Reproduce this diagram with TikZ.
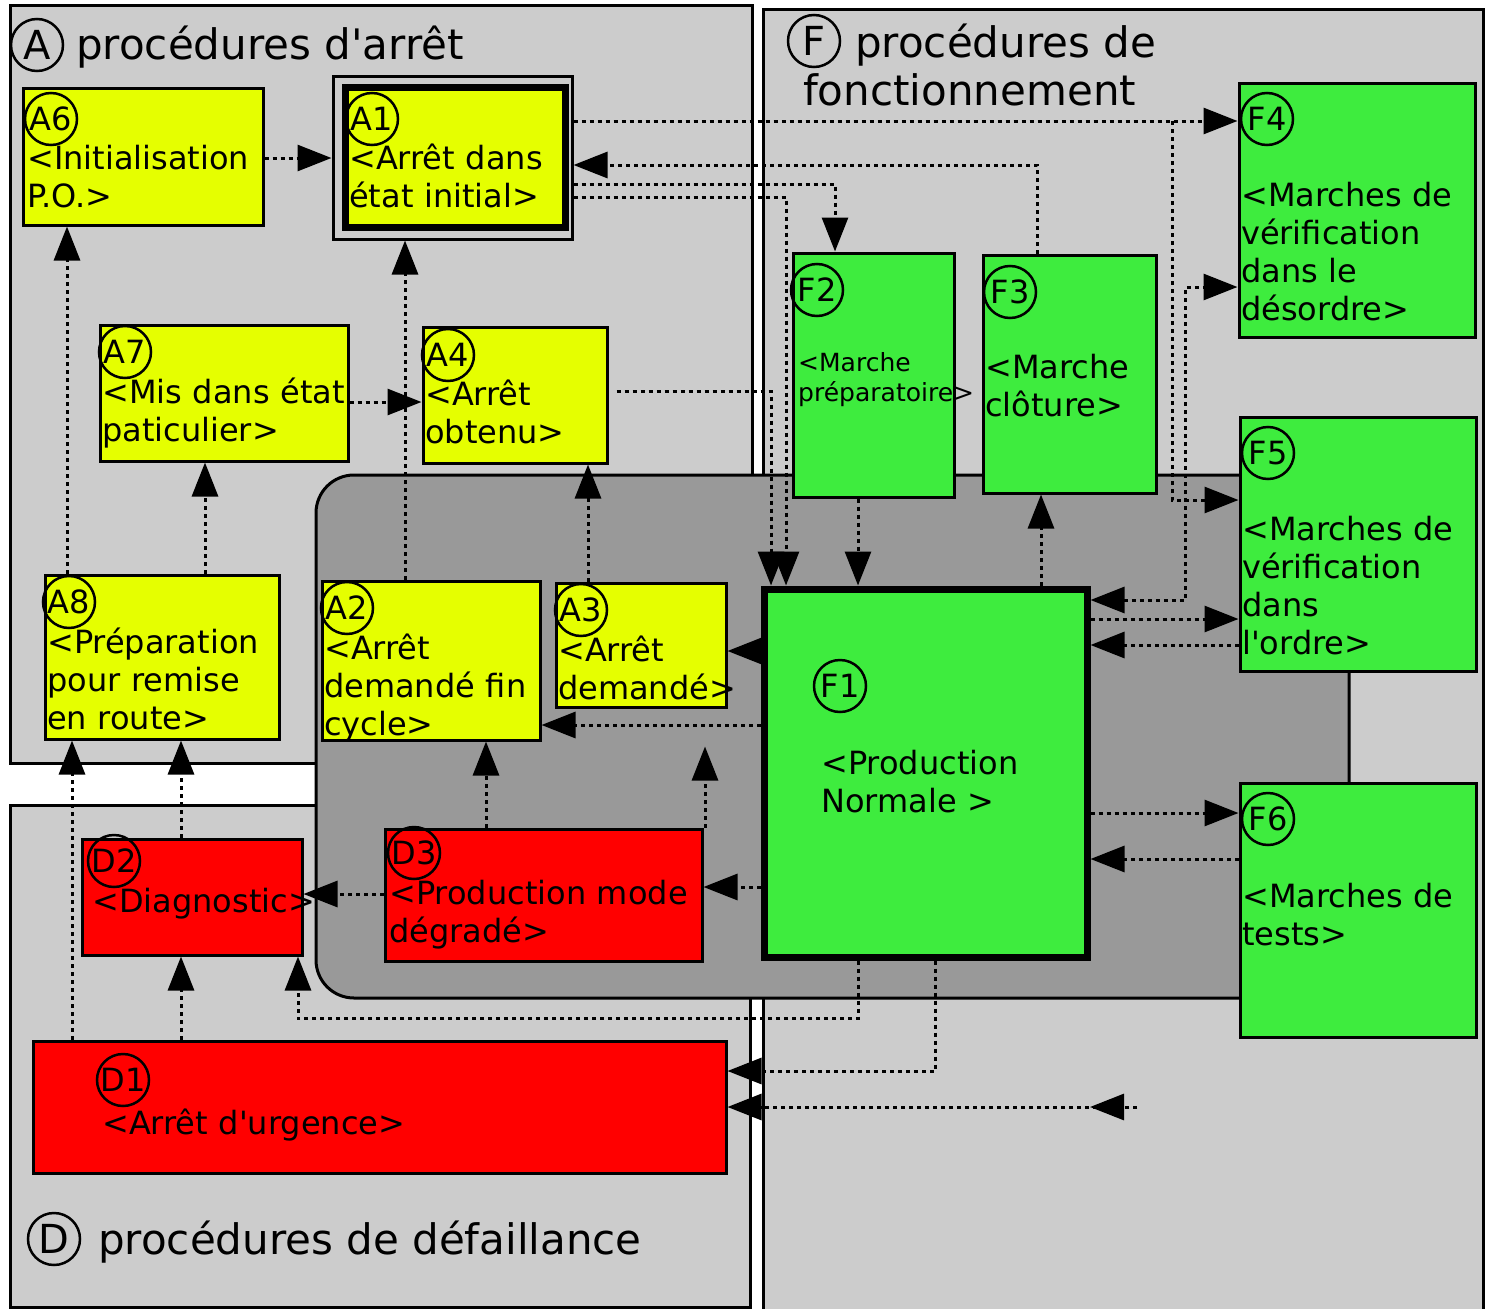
\documentclass[tikz,border=0pt]{standalone}
\usepackage{fontspec}
\setmainfont{DejaVu Sans}[Ligatures=TeXOff]
\usepackage{tikz}
\usepackage{xcolor}
\usetikzlibrary{positioning,arrows.meta}

\definecolor{gemyellow}{RGB}{229,255,0}
\definecolor{gemgreen}{RGB}{62,236,62}
\definecolor{gemred}{RGB}{255,0,0}
\definecolor{panelgray}{RGB}{204,204,204}
\definecolor{coregray}{RGB}{153,153,153}

\begin{document}
\begin{tikzpicture}[x=1pt, y=-1pt,
    panel/.style={draw, line width=3pt, fill=panelgray},
    ybox/.style={rectangle, draw, line width=3pt, fill=gemyellow, inner sep=0pt},
    gbox/.style={rectangle, draw, line width=3pt, fill=gemgreen, inner sep=0pt},
    rbox/.style={rectangle, draw, line width=3pt, fill=gemred, inner sep=0pt},
    tag/.style={circle, draw, line width=2.5pt, minimum size=52pt, inner sep=0pt, font=\fontsize{32}{38}\selectfont},
    bigtag/.style={circle, draw, line width=2.5pt, minimum size=52pt, inner sep=0pt, font=\fontsize{40}{48}\selectfont},
    txt/.style={anchor=base west, align=left, text width=320pt, inner sep=0pt, font=\fontsize{32}{38}\selectfont},
    smalltxt/.style={txt, font=\fontsize{25}{30}\selectfont},
    head/.style={anchor=base west, inner sep=0pt, font=\fontsize{42}{48}\selectfont},
    flow/.style={line width=3pt, dash pattern=on 4pt off 4pt, -{Triangle[length=34pt,width=26pt]}},
    flowboth/.style={flow, {Triangle[length=34pt,width=26pt]}-{Triangle[length=34pt,width=26pt]}}]
      \useasboundingbox (0,0) rectangle (1489,1309);
      %\draw [dotted] (0,0) grid[step=100] (1489,1309);
      \draw [panel] (10,5) rectangle (752,763);
      \draw [panel] (10,805) rectangle (750,1307);
      \draw [panel] (763,9) rectangle (1483,1340);
      \draw [line width=3pt, fill=coregray, rounded corners=38pt] (316,475) rectangle (1349,998);
      % headings
      \node [bigtag]      (Ac) at (37,45) {A};
      \node [head]        (At) at (76,59) {procédures d'arrêt};
      \node [bigtag]      (Fc) at (814,41) {F};
      \node [head]        (Ft) at (855,57) {procédures de};
      \node [head]       (Ft2) at (803,105) {fonctionnement};
      \node [bigtag]      (Dc) at (54,1239) {D};
      \node [head]        (Dt) at (98,1254) {procédures de défaillance};
      % arret
      \node [ybox, minimum width=240pt, minimum height=137pt] (A6) at (143,156.5) {};
      \node [tag]        (A6c) at (51,119) {A6};
      \node [txt]        (A6t) at (27,169) {<Initialisation\\P.O.>};
      \node [draw, line width=3pt, minimum width=239pt, minimum height=163pt] (A1o) at (452.5,157.5) {};
      \node [ybox, line width=7pt, minimum width=220pt, minimum height=140pt] (A1) at (455,157) {};
      \node [tag]        (A1c) at (372,119) {A1};
      \node [txt]        (A1t) at (349,169) {<Arrêt dans\\état initial>};
      \node [ybox, minimum width=248pt, minimum height=136pt] (A7) at (224,393) {};
      \node [tag]        (A7c) at (125,352) {A7};
      \node [txt]        (A7t) at (102,403) {<Mis dans état\\paticulier>};
      \node [ybox, minimum width=184pt, minimum height=136pt] (A4) at (515,395) {};
      \node [tag]        (A4c) at (448,355) {A4};
      \node [txt]        (A4t) at (425,405) {<Arrêt\\obtenu>};
      \node [ybox, minimum width=234pt, minimum height=164pt] (A8) at (162,657) {};
      \node [tag]        (A8c) at (69,602) {A8};
      \node [txt]        (A8t) at (47,653) {<Préparation\\pour remise\\en route>};
      \node [ybox, minimum width=218pt, minimum height=159pt] (A2) at (431,660.5) {};
      \node [tag]        (A2c) at (347,608) {A2};
      \node [txt]        (A2t) at (324,659) {<Arrêt\\demandé fin\\cycle>};
      \node [ybox, minimum width=170pt, minimum height=124pt] (A3) at (641,645) {};
      \node [tag]        (A3c) at (581,610) {A3};
      \node [txt]        (A3t) at (558,661) {<Arrêt\\demandé>};
      % fonctionnement
      \node [gbox, minimum width=161pt, minimum height=244pt] (F2) at (873.5,375) {};
      \node [tag]        (F2c) at (817,290) {F2};
      \node [smalltxt]   (F2t) at (798,371) {<Marche\\préparatoire>};
      \node [gbox, minimum width=173pt, minimum height=238pt] (F3) at (1069.5,374) {};
      \node [tag]        (F3c) at (1010,292) {F3};
      \node [txt]        (F3t) at (985,378) {<Marche\\clôture>};
      \node [gbox, minimum width=236pt, minimum height=254pt] (F4) at (1357,210) {};
      \node [tag]        (F4c) at (1267,119) {F4};
      \node [txt]        (F4t) at (1241,206) {<Marches de\\vérification\\dans le\\désordre>};
      \node [gbox, minimum width=236pt, minimum height=254pt] (F5) at (1358,544) {};
      \node [tag]        (F5c) at (1268,453) {F5};
      \node [txt]        (F5t) at (1242,540) {<Marches de\\vérification\\dans\\l'ordre>};
      \node [gbox, minimum width=236pt, minimum height=254pt] (F6) at (1358,910) {};
      \node [tag]        (F6c) at (1268,819) {F6};
      \node [txt]        (F6t) at (1242,907) {<Marches de\\tests>};
      \node [gbox, line width=7pt, minimum width=323pt, minimum height=368pt] (F1) at (925.5,773) {};
      \node [tag]        (F1c) at (840,686) {F1};
      \node [txt]        (F1t) at (821,774) {<Production\\Normale >};
      % defaillance
      \node [rbox, minimum width=220pt, minimum height=116pt] (D2) at (192,897) {};
      \node [tag]        (D2c) at (114,861) {D2};
      \node [txt]        (D2t) at (92,912) {<Diagnostic>};
      \node [rbox, minimum width=317pt, minimum height=132pt] (D3) at (543.5,895) {};
      \node [tag]        (D3c) at (414,853) {D3};
      \node [txt]        (D3t) at (389,904) {<Production mode\\dégradé>};
      \node [rbox, minimum width=693pt, minimum height=132pt] (D1) at (379.5,1107) {};
      \node [tag]        (D1c) at (123,1080) {D1};
      \node [txt]        (D1t) at (102,1134) {<Arrêt d'urgence>};
      \coordinate (fork) at (1172,121);
      \coordinate (urg) at (1137,1107);
      \coordinate (urgtip) at (1090,1107);
      % evolutions
      \draw [flow] (A6.east |- 0,158) -- (A1o.west |- 0,158);
      \draw [flow] (A1o.east |- 0,121) -- (F4.west |- 0,121);
      \draw [flow] (fork) |- (F5.west |- 0,500);
      \draw [flow] (1037,0 |- F3.north) |- (A1o.east |- 0,165);
      \draw [flow] (A1o.east |- 0,184) -| (F2.north -| 835,0);
      \draw [flow] (A1o.east |- 0,197) -| (F1.north -| 786,0);
      \draw [flow, shorten <=8pt] (A4.east |- 0,391) -| (F1.north -| 771,0);
      \draw [flow] (F2.south -| 858,0) -- (F1.north -| 858,0);
      \draw [flow] (F1.north -| 1041,0) -- (F3.south -| 1041,0);
      \draw [flow] (A7.east |- 0,402) -- (A4.west |- 0,402);
      \draw [flow] (A2.north -| 405,0) -- (A1o.south -| 405,0);
      \draw [flow] (A8.north -| 67,0) -- (A6.south -| 67,0);
      \draw [flow] (A8.north -| 205,0) -- (A7.south -| 205,0);
      \draw [flow] (A3.north -| 588,0) -- (A4.south -| 588,0);
      \draw [flow, shorten <=-16pt] (F1.west |- 0,651) -- (A3.east |- 0,651);
      \draw [flow] (F1.west |- 0,725) -- (A2.east |- 0,725);
      \draw [flow] (D3.north -| 486,0) -- (A2.south -| 486,0);
      \draw [flow, shorten >=38pt] (D3.north -| 705,0) -- (A3.south -| 705,0);
      \draw [flow] (F1.west |- 0,887) -- (D3.east |- 0,887);
      \draw [flow] (D3.west |- 0,894) -- (D2.east |- 0,894);
      \draw [flow] (D2.north -| 181,0) -- (A8.south -| 181,0);
      \draw [flow] (D1.north -| 72,0) -- (A8.south -| 72,0);
      \draw [flow] (D1.north -| 181,0) -- (D2.south -| 181,0);
      \draw [flow] (F1.south -| 858,0) -- ++(0,58) -| (D2.south -| 298,0);
      \draw [flow] (F1.south -| 935,0) |- (D1.east |- 0,1071);
      \draw [flow] (urg) -- (D1.east |- urg);
      \draw [flow] (urg) -- (urgtip);
      \draw [flowboth] (F1.east |- 0,600) -- ++(95,0) |- (F4.west |- 0,287);
      \draw [flow] (F1.east |- 0,619) -- (F5.west |- 0,619);
      \draw [flow] (F5.west |- 0,645) -- (F1.east |- 0,645);
      \draw [flow] (F1.east |- 0,813) -- (F6.west |- 0,813);
      \draw [flow] (F6.west |- 0,859) -- (F1.east |- 0,859);
\end{tikzpicture}
\end{document}
